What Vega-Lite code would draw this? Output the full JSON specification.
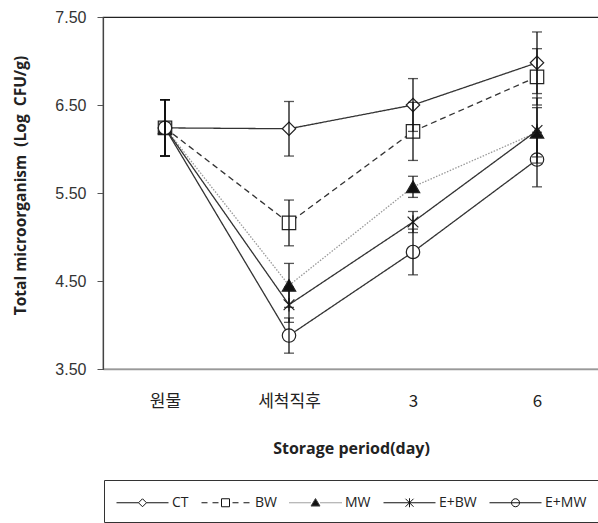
{
  "$schema": "https://vega.github.io/schema/vega-lite/v6.json",
  "width": 496,
  "height": 352,
  "autosize": {"type": "none"},
  "padding": {"left": 103, "top": 17, "right": 0, "bottom": 160},
  "background": "white",
  "config": {
    "view": {"stroke": "#222", "strokeWidth": 1.2},
    "legend": {
      "orient": "none",
      "legendX": 1,
      "legendY": 463,
      "direction": "horizontal",
      "strokeColor": "#333",
      "fillColor": "white",
      "padding": 12,
      "labelFont": "Open Sans",
      "labelFontSize": 14,
      "labelColor": "#222",
      "labelOffset": 35,
      "columnPadding": 10,
      "symbolSize": 400,
      "symbolStrokeWidth": 1,
      "symbolStrokeColor": "#111",
      "title": null
    }
  },
  "data": {
    "values": [
      {"series": "CT", "day": "원물", "value": 6.24, "sd": 0.32},
      {"series": "BW", "day": "원물", "value": 6.24, "sd": 0.32},
      {"series": "MW", "day": "원물", "value": 6.24, "sd": 0.32},
      {"series": "E+BW", "day": "원물", "value": 6.24, "sd": 0.32},
      {"series": "E+MW", "day": "원물", "value": 6.24, "sd": 0.32},
      {"series": "CT", "day": "세척직후", "value": 6.23, "sd": 0.31},
      {"series": "BW", "day": "세척직후", "value": 5.16, "sd": 0.26},
      {"series": "MW", "day": "세척직후", "value": 4.45, "sd": 0.25},
      {"series": "E+BW", "day": "세척직후", "value": 4.23, "sd": 0.2},
      {"series": "E+MW", "day": "세척직후", "value": 3.88, "sd": 0.2},
      {"series": "CT", "day": "3", "value": 6.5, "sd": 0.3},
      {"series": "BW", "day": "3", "value": 6.2, "sd": 0.33},
      {"series": "MW", "day": "3", "value": 5.57, "sd": 0.12},
      {"series": "E+BW", "day": "3", "value": 5.17, "sd": 0.12},
      {"series": "E+MW", "day": "3", "value": 4.83, "sd": 0.26},
      {"series": "CT", "day": "6", "value": 6.98, "sd": 0.35},
      {"series": "BW", "day": "6", "value": 6.82, "sd": 0.32},
      {"series": "MW", "day": "6", "value": 6.19, "sd": 0.28},
      {"series": "E+BW", "day": "6", "value": 6.21, "sd": 0.37},
      {"series": "E+MW", "day": "6", "value": 5.88, "sd": 0.31}
    ]
  },
  "encoding": {
    "x": {
      "field": "day",
      "type": "nominal",
      "sort": ["원물", "세척직후", "3", "6"],
      "scale": {"type": "point", "padding": 0.5},
      "axis": {
        "title": "Storage period(day)",
        "titleFont": "Open Sans",
        "titleFontWeight": "bold",
        "titleFontSize": 16,
        "titleColor": "#222",
        "titlePadding": 31,
        "labelAngle": 0,
        "labelFont": "Noto Sans CJK KR",
        "labelFontSize": 17,
        "labelColor": "#222",
        "labelPadding": 24,
        "ticks": false,
        "domainColor": "#999",
        "domainWidth": 1.5
      }
    },
    "y": {
      "field": "value",
      "type": "quantitative",
      "scale": {"domain": [3.5, 7.5], "nice": false, "zero": false},
      "axis": {
        "title": "Total microorganism\u00a0 (Log\u00a0 CFU/g)",
        "titleFont": "Open Sans",
        "titleFontWeight": "bold",
        "titleFontSize": 15.5,
        "titleColor": "#222",
        "titleX": -83,
        "titleY": 168,
        "titleBaseline": "middle",
        "values": [3.5, 4.5, 5.5, 6.5, 7.5],
        "format": ".2f",
        "grid": false,
        "labelFont": "Liberation Sans",
        "labelFontSize": 16,
        "labelColor": "#333",
        "labelPadding": 11,
        "tickSize": 6,
        "tickColor": "#555",
        "domainColor": "#444",
        "domainWidth": 1.2
      }
    }
  },
  "layer": [
    {
      "mark": {"type": "line", "strokeWidth": 1.3},
      "encoding": {
        "detail": {"field": "series"},
        "color": {
          "field": "series",
          "type": "nominal",
          "scale": {"domain": ["CT", "BW", "MW", "E+BW", "E+MW"], "range": ["#333", "#333", "#999", "#333", "#333"]},
          "legend": null
        },
        "strokeDash": {
          "field": "series",
          "type": "nominal",
          "scale": {"domain": ["CT", "BW", "MW", "E+BW", "E+MW"], "range": [[1, 0], [6, 4], [1.5, 1.5], [1, 0], [1, 0]]},
          "legend": null
        }
      }
    },
    {
      "mark": {"type": "point", "filled": true, "stroke": "#222", "strokeWidth": 1.2, "size": 180, "opacity": 1},
      "encoding": {
        "shape": {
          "field": "series",
          "type": "nominal",
          "scale": {"domain": ["CT", "BW", "MW", "E+BW", "E+MW"], "range": ["diamond", "square", "triangle-up", "M-0.8,-0.8L0.8,0.8M-0.8,0.8L0.8,-0.8M0,-1L0,1", "circle"]},
          "legend": null
        },
        "fill": {
          "field": "series",
          "type": "nominal",
          "scale": {"domain": ["CT", "BW", "MW", "E+BW", "E+MW"], "range": ["white", "white", "#111", "transparent", "white"]},
          "legend": null
        }
      }
    },
    {
      "mark": {"type": "errorbar", "color": "#111", "thickness": 1.3, "ticks": {"size": 10, "thickness": 1.3, "color": "#111"}},
      "encoding": {
        "yError": {"field": "sd"}
      }
    },
    {
      "transform": [{"filter": "false"}],
      "mark": {"type": "point", "filled": true, "strokeWidth": 1, "opacity": 1},
      "encoding": {
        "shape": {
          "field": "series",
          "type": "nominal",
          "sort": ["CT", "BW", "MW", "E+BW", "E+MW"],
          "scale": {
            "domain": ["CT", "BW", "MW", "E+BW", "E+MW"],
            "range": [
              "M-1,0L1.2,0M2,0L4.2,0M1.6,-0.4L2,0L1.6,0.4L1.2,0Z",
              "M-0.8,0L-0.2,0M0.3,0L0.9,0M1.2,-0.4L2,-0.4L2,0.4L1.2,0.4Z M2.3,0L2.9,0M3.4,0L4,0",
              "M-1,0L-0.9,0M-0.8,0L-0.7,0M-0.6,0L-0.5,0M-0.4,0L-0.3,0M-0.2,0L-0.1,0M0,0L0.1,0M0.2,0L0.3,0M0.4,0L0.5,0M0.6,0L0.7,0M0.8,0L0.9,0M1.0,0L1.1,0M1.6,-0.42L2.05,0.33L1.15,0.33Z M2.1,0L2.2,0M2.3,0L2.4,0M2.5,0L2.6,0M2.7,0L2.8,0M2.9,0L3.0,0M3.1,0L3.2,0M3.3,0L3.4,0M3.5,0L3.6,0M3.7,0L3.8,0M3.9,0L4.0,0M4.1,0L4.2,0",
              "M-1,0L4.2,0M1.2,-0.4L2,0.4M1.2,0.4L2,-0.4M1.6,-0.45L1.6,0.45",
              "M-1,0L4.2,0M1.2,0A0.4,0.4 0 1,0 2,0A0.4,0.4 0 1,0 1.2,0Z"
            ]
          }
        },
        "fill": {
          "field": "series",
          "type": "nominal",
          "sort": ["CT", "BW", "MW", "E+BW", "E+MW"],
          "scale": {"domain": ["CT", "BW", "MW", "E+BW", "E+MW"], "range": ["white", "white", "#111", "white", "white"]}
        },
        "stroke": {
          "field": "series",
          "type": "nominal",
          "sort": ["CT", "BW", "MW", "E+BW", "E+MW"],
          "scale": {"domain": ["CT", "BW", "MW", "E+BW", "E+MW"], "range": ["#111", "#111", "#444", "#111", "#111"]}
        }
      }
    }
  ],
  "resolve": {"scale": {"shape": "independent", "fill": "independent", "stroke": "independent"}}
}
